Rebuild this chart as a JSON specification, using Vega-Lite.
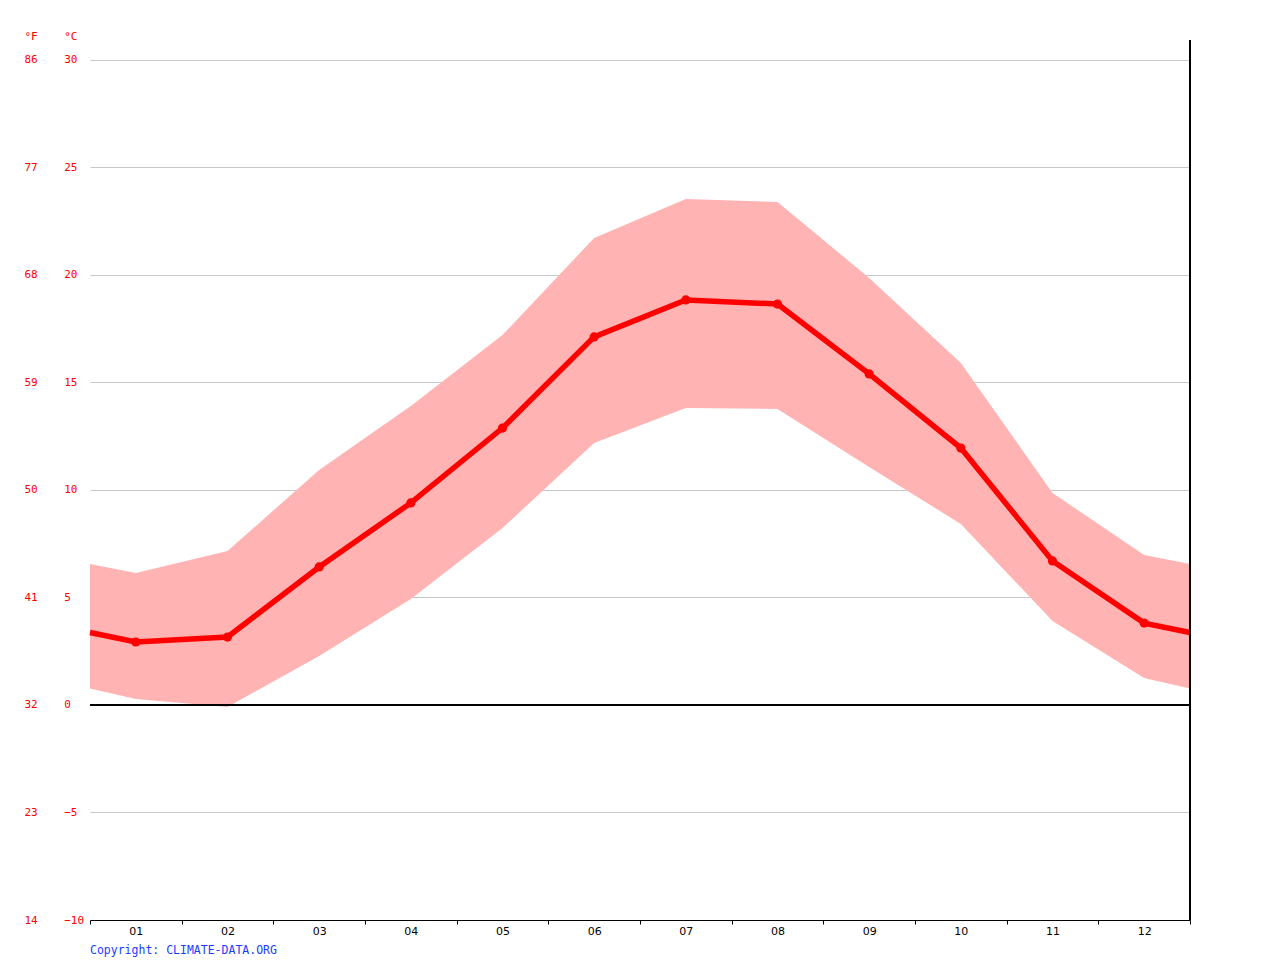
{
  "$schema": "https://vega.github.io/schema/vega-lite/v6.json",
  "autosize": "none",
  "width": 1100,
  "height": 880,
  "padding": {"left": 90, "top": 40, "right": 90, "bottom": 40},
  "background": "white",
  "config": {"view": {"stroke": null}},
  "title": {
    "text": "Copyright: CLIMATE-DATA.ORG",
    "orient": "bottom",
    "anchor": "start",
    "frame": "group",
    "font": "DejaVu Sans Mono",
    "fontSize": 11.5,
    "fontWeight": "normal",
    "color": "#1a3cff",
    "offset": 9
  },
  "data": {
    "values": [
      {"m": 0.5, "lo": 0.77, "mean": 3.37, "hi": 6.56},
      {"m": 1, "lo": 0.28, "mean": 2.93, "hi": 6.14},
      {"m": 2, "lo": -0.09, "mean": 3.16, "hi": 7.16},
      {"m": 3, "lo": 2.28, "mean": 6.42, "hi": 10.93},
      {"m": 4, "lo": 4.93, "mean": 9.4, "hi": 13.91},
      {"m": 5, "lo": 8.23, "mean": 12.88, "hi": 17.21},
      {"m": 6, "lo": 12.19, "mean": 17.12, "hi": 21.72},
      {"m": 7, "lo": 13.81, "mean": 18.84, "hi": 23.53},
      {"m": 8, "lo": 13.77, "mean": 18.65, "hi": 23.4},
      {"m": 9, "lo": 11.07, "mean": 15.4, "hi": 19.86},
      {"m": 10, "lo": 8.42, "mean": 11.95, "hi": 15.91},
      {"m": 11, "lo": 3.91, "mean": 6.7, "hi": 9.86},
      {"m": 12, "lo": 1.26, "mean": 3.81, "hi": 6.98},
      {"m": 12.5, "lo": 0.77, "mean": 3.37, "hi": 6.56}
    ]
  },
  "resolve": {"axis": {"x": "independent"}},
  "layer": [
    {
      "mark": {"type": "area", "color": "#ffb3b3", "opacity": 1},
      "encoding": {
        "x": {
          "field": "m", "type": "quantitative",
          "scale": {"domain": [0.5, 12.5], "nice": false, "zero": false},
          "axis": {
            "orient": "bottom",
            "title": null,
            "values": [1, 2, 3, 4, 5, 6, 7, 8, 9, 10, 11, 12],
            "labelExpr": "(datum.value < 10 ? '0' : '') + datum.value",
            "ticks": false,
            "grid": false,
            "domain": true,
            "domainColor": "black",
            "domainWidth": 1,
            "labelFont": "DejaVu Sans",
            "labelFontSize": 11,
            "labelColor": "black",
            "labelPadding": 5,
            "labelFlush": false,
            "labelOverlap": false
          }
        },
        "y": {
          "field": "lo", "type": "quantitative",
          "scale": {"domain": [-10, 30.93], "nice": false, "zero": false},
          "axis": {
            "orient": "left",
            "title": "°F\u00a0\u00a0\u00a0\u00a0°C",
            "titleAngle": 0,
            "titleX": -66,
            "titleY": -1,
            "titleAlign": "left",
            "titleBaseline": "alphabetic",
            "titleFont": "DejaVu Sans Mono",
            "titleFontSize": 11,
            "titleFontWeight": "normal",
            "titleColor": "#ff0000",
            "values": [-10, -5, 0, 5, 10, 15, 20, 25, 30],
            "labelExpr": "format(datum.value * 9 / 5 + 32, 'd') + '\u00a0\u00a0\u00a0\u00a0' + format(datum.value, 'd')",
            "labelAlign": "left",
            "labelBaseline": "middle",
            "labelPadding": 66,
            "labelFont": "DejaVu Sans Mono",
            "labelFontSize": 11,
            "labelColor": "#ff0000",
            "ticks": false,
            "domain": false,
            "grid": true,
            "gridColor": "#c8c8c8",
            "gridWidth": 1
          }
        },
        "y2": {"field": "hi"}
      }
    },
    {
      "mark": {"type": "rule", "color": "black", "strokeWidth": 1},
      "encoding": {"y": {"datum": 0, "type": "quantitative", "title": "°F\u00a0\u00a0\u00a0\u00a0°C"}}
    },
    {
      "mark": {"type": "line", "color": "#ff0000", "strokeWidth": 5.5},
      "encoding": {
        "x": {"field": "m", "type": "quantitative", "axis": null},
        "y": {"field": "mean", "type": "quantitative", "title": "°F\u00a0\u00a0\u00a0\u00a0°C"}
      }
    },
    {
      "transform": [{"filter": "datum.m >= 1 && datum.m <= 12"}],
      "mark": {"type": "point", "filled": true, "color": "#ff0000", "size": 85, "opacity": 1},
      "encoding": {
        "x": {"field": "m", "type": "quantitative", "axis": null},
        "y": {"field": "mean", "type": "quantitative", "title": "°F\u00a0\u00a0\u00a0\u00a0°C"}
      }
    },
    {
      "mark": {"type": "rule", "color": "black", "strokeWidth": 1},
      "encoding": {
        "x": {
          "datum": 12.5, "type": "quantitative",
          "axis": {
            "orient": "bottom",
            "title": null,
            "values": [0.5, 1.5, 2.5, 3.5, 4.5, 5.5, 6.5, 7.5, 8.5, 9.5, 10.5, 11.5, 12.5],
            "labels": false,
            "ticks": true,
            "tickSize": 4,
            "tickColor": "black",
            "tickWidth": 1,
            "domain": false,
            "grid": false
          }
        }
      }
    }
  ]
}
